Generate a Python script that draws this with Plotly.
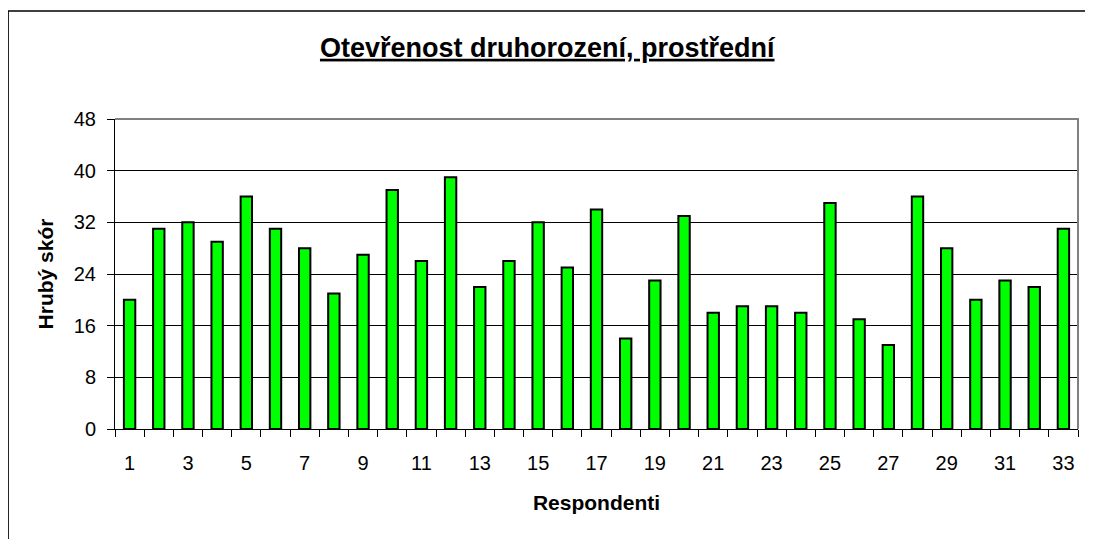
import plotly.graph_objects as go

# Data
respondenti = list(range(1, 34))
skore = [20, 31, 32, 29, 36, 31, 28, 21, 27, 37, 26, 39, 22, 26, 32, 25, 34,
         14, 23, 33, 18, 19, 19, 18, 35, 17, 13, 36, 28, 20, 23, 22, 31]
y_ticks = [0, 8, 16, 24, 32, 40, 48]
x_labels = [str(i) for i in respondenti if i % 2 == 1]

font_name = "Liberation Sans, Arial, sans-serif"

fig = go.Figure()
fig.add_trace(go.Bar(
    x=respondenti, y=skore,
    marker=dict(color="#00FF00", line=dict(color="black", width=2)),
    width=0.39,
))

# Plot area frame (gray top/right) and outer chart border
fig.add_shape(type="path", path="M 0 1 L 1 1 L 1 0", xref="paper", yref="paper",
              line=dict(color="#808080", width=2), layer="above")
fig.add_shape(type="rect", xref="paper", yref="paper",
              x0=-0.111, x1=1.2, y0=-0.6, y1=1.348,
              line=dict(color="black", width=1.5), layer="below")

# page body has an 8px margin, so the figure is a bit smaller than the window
fig.update_layout(
    width=1085, height=531,
    margin=dict(l=107, r=15, t=111, b=110),
    paper_bgcolor="white", plot_bgcolor="white",
    font=dict(family=font_name, size=20, color="black"),
    title=dict(text="<b><u>Otevřenost druhorození, prostřední</u></b>",
               x=0.497, xref="container", xanchor="center",
               y=0.926, yanchor="middle",
               font=dict(size=27, family=font_name)),
    showlegend=False,
    xaxis=dict(
        range=[0.5, 33.5],
        tickvals=[int(v) for v in x_labels], ticktext=x_labels,
        ticks="", showgrid=False, zeroline=False,
        showline=True, linecolor="black", linewidth=1,
        minor=dict(tick0=0.5, dtick=1, ticks="outside", ticklen=7,
                   tickcolor="black", showgrid=False),
        ticklabelstandoff=16,
        title=dict(text="<b>Respondenti</b>", standoff=22, font=dict(size=21)),
        tickfont=dict(size=20),
    ),
    yaxis=dict(
        range=[0, 48], tickvals=y_ticks,
        ticks="outside", ticklen=7, tickcolor="black",
        showgrid=True, gridcolor="black", gridwidth=1,
        zeroline=False, showline=True, linecolor="black", linewidth=1,
        ticklabelstandoff=7,
        title=dict(text="<b>Hrubý skór</b>", standoff=14, font=dict(size=21)),
        tickfont=dict(size=20),
    ),
)

fig.write_html("out.html")
